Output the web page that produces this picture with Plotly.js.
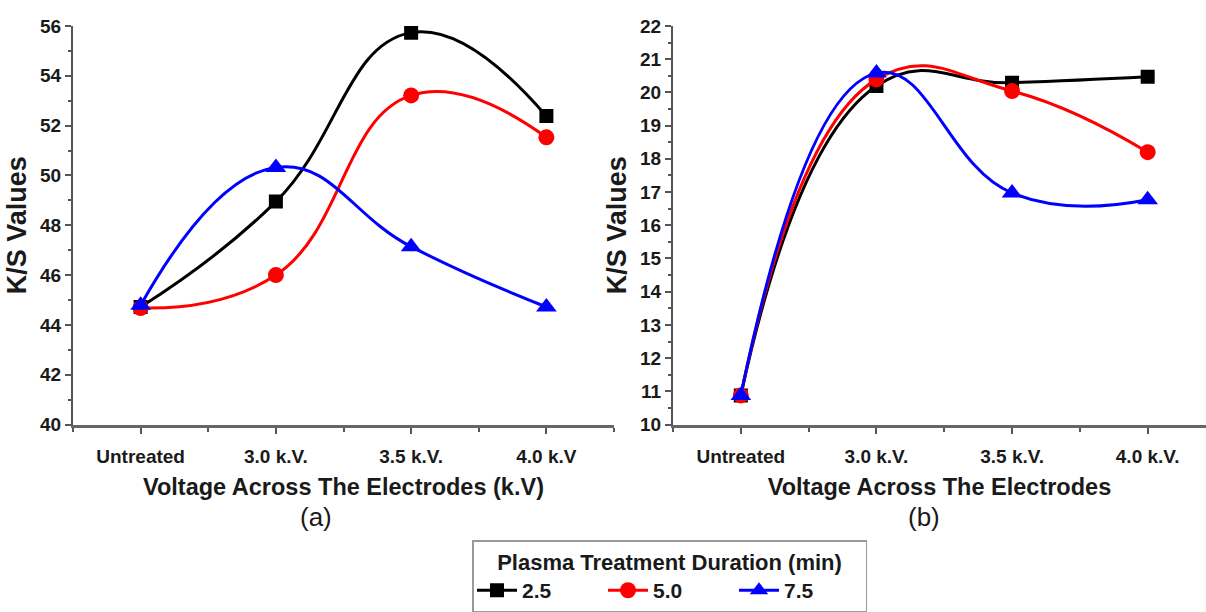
<!DOCTYPE html>
<html><head><meta charset="utf-8">
<script src="https://cdn.plot.ly/plotly-3.0.1.min.js"></script>
<style>html,body{margin:0;padding:0;background:#fff}#chart{width:1206px;height:612px}</style>
</head><body><div id="chart"></div>
<script>
// ---- data ----
const categoriesA = ['Untreated', '3.0 k.V.', '3.5 k.V.', '4.0 k.V'];
const categoriesB = ['Untreated', '3.0 k.V.', '3.5 k.V.', '4.0 k.V.'];
const seriesNames = ['2.5', '5.0', '7.5'];
// (a)
const ksA_25 = [44.72, 48.95, 55.73, 52.38];
const ksA_50 = [44.68, 46.00, 53.21, 51.53];
const ksA_75 = [44.79, 50.32, 47.14, 44.72];
// (b)
const ksB_25 = [10.88, 20.19, 20.29, 20.47];
const ksB_50 = [10.88, 20.39, 20.04, 18.20];
const ksB_75 = [10.88, 20.58, 16.97, 16.77];
const yTicksA = [40, 42, 44, 46, 48, 50, 52, 54, 56];
const yTicksB = [10, 11, 12, 13, 14, 15, 16, 17, 18, 19, 20, 21, 22];

// ---- style ----
const FONT = '"Liberation Sans", Arial, sans-serif';
const colors = ['#000000', '#ff0000', '#0000ff'];
const symbols = ['square', 'circle', 'triangle-up'];
const msizes = [14, 16, 18];
const pos = categoriesA.map((c, i) => i);

function trace(y, k, xa, ya, show) {
  return {
    type: 'scatter', mode: 'lines+markers', x: pos, y: y, xaxis: xa, yaxis: ya,
    name: seriesNames[k], legendgroup: seriesNames[k], showlegend: show,
    line: {color: colors[k], width: 3, shape: 'spline', smoothing: 1.3},
    marker: {symbol: symbols[k], size: msizes[k], color: colors[k]},
    hoverinfo: 'x+y'
  };
}

const data = [
  trace(ksA_25, 0, 'x', 'y', true),
  trace(ksA_50, 1, 'x', 'y', true),
  trace(ksA_75, 2, 'x', 'y', true),
  trace(ksB_25, 0, 'x2', 'y2', false),
  trace(ksB_50, 1, 'x2', 'y2', false),
  trace(ksB_75, 2, 'x2', 'y2', false)
];

function xAxis(domain, range, labels, title, anchor) {
  return {
    domain: domain, range: range, anchor: anchor,
    tickmode: 'array', tickvals: pos, ticktext: labels,
    ticks: 'outside', ticklen: 6, tickwidth: 2, tickcolor: '#555',
    showline: true, linecolor: '#666', linewidth: 3,
    showgrid: false, zeroline: false,
    tickfont: {family: FONT, size: 19, color: '#1a1a1a', weight: 'bold'},
    ticklabelstandoff: 7,
    minor: {tickmode: 'linear', tick0: 0, dtick: 0.5, ticks: 'outside', ticklen: 4, tickwidth: 2, tickcolor: '#555'},
    title: {text: title, font: {family: FONT, size: 23.5, color: '#1a1a1a', weight: 'bold'}, standoff: 13}
  };
}
function yAxis(domain, range, ticks, minorStep, anchor) {
  return {
    domain: domain, range: range, anchor: anchor,
    tickmode: 'array', tickvals: ticks,
    ticks: 'outside', ticklen: 6, tickwidth: 2, tickcolor: '#555',
    showline: true, linecolor: '#555', linewidth: 2,
    showgrid: false, zeroline: false,
    tickfont: {family: FONT, size: 19, color: '#1a1a1a', weight: 'bold'},
    minor: {tickmode: 'linear', tick0: range[0], dtick: minorStep, ticks: 'outside', ticklen: 3, tickwidth: 2, tickcolor: '#555'},
    title: {text: 'K/S Values', font: {family: FONT, size: 27, color: '#1a1a1a', weight: 'bold'}, standoff: 6}
  };
}

const H = 612, W = 1206;
const yDom = [1 - 426 / H, 1 - 26 / H];
const layout = {
  width: W, height: H, autosize: false,
  margin: {l: 0, r: 0, t: 0, b: 0},
  paper_bgcolor: '#ffffff', plot_bgcolor: '#ffffff',
  showlegend: true,
  xaxis: xAxis([73 / W, 614 / W], [-0.5, 3.5], categoriesA, 'Voltage Across The Electrodes (k.V)', 'y'),
  yaxis: yAxis(yDom, [40, 56], yTicksA, 1, 'x'),
  xaxis2: xAxis([673 / W, 1], [-0.5, 3.43], categoriesB, 'Voltage Across The Electrodes', 'y2'),
  yaxis2: yAxis(yDom, [10, 22], yTicksB, 0.5, 'x2'),
  legend: {
    orientation: 'h', x: 472 / W, xanchor: 'left', y: 1 - 542 / H, yanchor: 'top',
    bordercolor: '#999', borderwidth: 1.5, bgcolor: '#fff',
    title: {text: 'Plasma Treatment Duration (min)', side: 'top center', font: {family: FONT, size: 22, color: '#1a1a1a', weight: 'bold'}},
    font: {family: FONT, size: 21, color: '#1a1a1a', weight: 'bold'},
    entrywidth: 76, itemwidth: 40
  },
  annotations: [
    {text: '(a)', xref: 'paper', yref: 'paper', x: 316 / W, y: 1 - 519 / H, showarrow: false, xanchor: 'center', yanchor: 'middle', font: {family: FONT, size: 26, color: '#1a1a1a'}},
    {text: '(b)', xref: 'paper', yref: 'paper', x: 924 / W, y: 1 - 519 / H, showarrow: false, xanchor: 'center', yanchor: 'middle', font: {family: FONT, size: 26, color: '#1a1a1a'}}
  ]
};

Plotly.newPlot('chart', data, layout, {displayModeBar: false, staticPlot: true});
</script>
</body></html>
